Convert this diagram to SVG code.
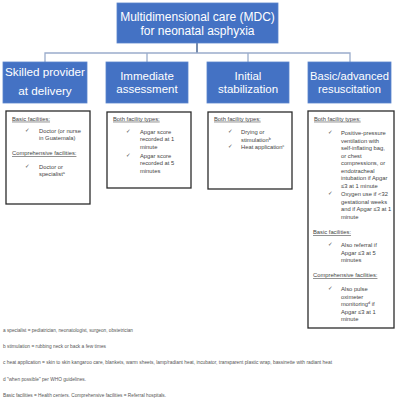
<svg xmlns="http://www.w3.org/2000/svg" width="400" height="400" viewBox="0 0 400 400">
<style>
.bg{fill:#ffffff}
.blue{fill:#4472C4;stroke:#5b84cc;stroke-width:0.8}
.hd{font-family:"Liberation Sans",Arial,sans-serif;fill:#ffffff;text-anchor:middle}
.detail{fill:#ffffff;stroke:#2b2b2b;stroke-width:1.3}
.t{font-family:"Liberation Sans",Arial,sans-serif;font-size:5.8px;fill:#444444}
.u{text-decoration:underline}
.ck{font-family:"DejaVu Sans",sans-serif;font-size:5.5px;fill:#444444}
.fn{font-family:"Liberation Sans",Arial,sans-serif;font-size:4.5px;fill:#555555}
.sup{font-size:3.8px}
.conn{fill:none;stroke:#9aaccb;stroke-width:1.3}
.connd{fill:none;stroke:#2f4f80;stroke-width:1.3}
</style>
<rect class="bg" x="0" y="0" width="400" height="400"/>
<g id="connectors">
<line class="connd" x1="197" y1="43" x2="197" y2="53"/>
<polyline class="conn" points="45,62 45,53 350,53 350,62"/>
<line class="conn" x1="147" y1="53" x2="147" y2="62"/>
<line class="conn" x1="248" y1="53" x2="248" y2="62"/>
</g>
<g id="root">
<rect class="blue" x="117" y="3" width="161" height="40"/>
<text class="hd" x="197.5" y="21" font-size="12">Multidimensional care (MDC)</text>
<text class="hd" x="197.5" y="34.5" font-size="12">for neonatal asphyxia</text>
</g>
<g id="skilled">
<rect class="blue" x="3" y="62" width="84" height="41"/>
<text class="hd" x="45" y="76" font-size="11.7">Skilled provider</text>
<text class="hd" x="45" y="95" font-size="11.7">at delivery</text>
</g>
<g id="assessment">
<rect class="blue" x="106" y="62" width="82" height="41"/>
<text class="hd" x="147" y="80" font-size="11.5">Immediate</text>
<text class="hd" x="147" y="93" font-size="11.5">assessment</text>
</g>
<g id="stabilization">
<rect class="blue" x="207" y="62" width="82" height="41"/>
<text class="hd" x="248" y="80" font-size="11.5">Initial</text>
<text class="hd" x="248" y="93" font-size="11.5">stabilization</text>
</g>
<g id="resuscitation">
<rect class="blue" x="308" y="62" width="83" height="41"/>
<text class="hd" x="349.5" y="80" font-size="11.2">Basic/advanced</text>
<text class="hd" x="349.5" y="93" font-size="11.2">resuscitation</text>
</g>
<g id="detail-skilled">
<rect class="detail" x="6" y="111" width="84" height="93"/>
<text class="t u" x="12" y="120.7">Basic facilities:</text>
<text class="ck" x="25" y="132">✓</text>
<text class="t" x="39" y="132.7">Doctor (or nurse</text>
<text class="t" x="39" y="140.2">in Guatemala)</text>
<text class="t u" x="12" y="155">Comprehensive facilities:</text>
<text class="ck" x="25" y="167.5">✓</text>
<text class="t" x="39" y="168.5">Doctor or</text>
<text class="t" x="39" y="176">specialist<tspan class="sup" dy="-2">a</tspan></text>
</g>
<g id="detail-assessment">
<rect class="detail" x="107" y="112" width="84" height="76"/>
<text class="t u" x="113" y="120.7">Both facility types:</text>
<text class="ck" x="126" y="132.5">✓</text>
<text class="t" x="140" y="133.7">Apgar score</text>
<text class="t" x="140" y="141.2">recorded at 1</text>
<text class="t" x="140" y="148.7">minute</text>
<text class="ck" x="126" y="156.5">✓</text>
<text class="t" x="140" y="157.7">Apgar score</text>
<text class="t" x="140" y="165.2">recorded at 5</text>
<text class="t" x="140" y="172.7">minutes</text>
</g>
<g id="detail-stabilization">
<rect class="detail" x="208" y="112" width="84" height="77"/>
<text class="t u" x="214" y="120.7">Both facility types:</text>
<text class="ck" x="228" y="133">✓</text>
<text class="t" x="241" y="134">Drying or</text>
<text class="t" x="241" y="141.5">stimulation<tspan class="sup" dy="-2">b</tspan></text>
<text class="ck" x="228" y="147.5">✓</text>
<text class="t" x="241" y="148.5">Heat application<tspan class="sup" dy="-2">c</tspan></text>
</g>
<g id="detail-resuscitation">
<rect class="detail" x="308" y="111" width="86" height="217"/>
<text class="t u" x="314" y="120.7">Both facility types:</text>
<text class="ck" x="328" y="134">✓</text>
<text class="t" x="341" y="135">Positive-pressure</text>
<text class="t" x="341" y="142.5">ventilation with</text>
<text class="t" x="341" y="150">self-inflating bag,</text>
<text class="t" x="341" y="157.5">or chest</text>
<text class="t" x="341" y="165">compressions, or</text>
<text class="t" x="341" y="172.5">endotracheal</text>
<text class="t" x="341" y="180">intubation if Apgar</text>
<text class="t" x="341" y="187.5">≤3 at 1 minute</text>
<text class="ck" x="328" y="195">✓</text>
<text class="t" x="341" y="196">Oxygen use if &lt;32</text>
<text class="t" x="341" y="203.5">gestational weeks</text>
<text class="t" x="341" y="211">and if Apgar ≤3 at 1</text>
<text class="t" x="341" y="218.5">minute</text>
<text class="t u" x="313" y="234">Basic facilities:</text>
<text class="ck" x="328" y="246">✓</text>
<text class="t" x="341" y="247">Also referral if</text>
<text class="t" x="341" y="254.5">Apgar ≤3 at 5</text>
<text class="t" x="341" y="262">minutes</text>
<text class="t u" x="313" y="277">Comprehensive facilities:</text>
<text class="ck" x="328" y="290">✓</text>
<text class="t" x="341" y="291">Also pulse</text>
<text class="t" x="341" y="298.5">oximeter</text>
<text class="t" x="341" y="306">monitoring<tspan class="sup" dy="-2">d</tspan><tspan dy="2"> if</tspan></text>
<text class="t" x="341" y="313.5">Apgar ≤3 at 1</text>
<text class="t" x="341" y="321">minute</text>
</g>
<g id="footnotes">
<text class="fn" x="3" y="331.5" textLength="130" lengthAdjust="spacingAndGlyphs">a specialist = pediatrician, neonatologist, surgeon, obstetrician</text>
<text class="fn" x="3" y="347.5" textLength="103" lengthAdjust="spacingAndGlyphs">b stimulation = rubbing neck or back a few times</text>
<text class="fn" x="3" y="364" textLength="329" lengthAdjust="spacingAndGlyphs">c heat application = skin to skin kangaroo care, blankets, warm sheets, lamp/radiant heat, incubator, transparent plastic wrap, bassinette with radiant heat</text>
<text class="fn" x="3" y="380.5" textLength="83" lengthAdjust="spacingAndGlyphs">d "when possible" per WHO guidelines.</text>
<text class="fn" x="3" y="397" textLength="163" lengthAdjust="spacingAndGlyphs">Basic facilities = Health centers. Comprehensive facilities = Referral hospitals.</text>
</g>
</svg>
